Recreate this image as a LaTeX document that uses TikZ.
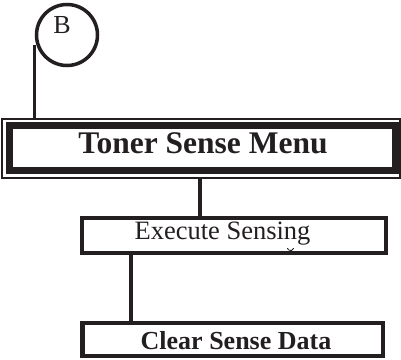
\documentclass[tikz,border=0pt]{standalone}
\usepackage{fontspec}
\setmainfont{Liberation Serif}
\definecolor{ink}{RGB}{35,31,32}
\begin{document}
\begin{tikzpicture}[x=1pt,y=-1pt,
  frame/.style={draw=ink,rectangle,inner sep=0pt,fill=none},
  wire/.style={draw=ink,line width=3.5pt},
  lbl/.style={text=ink,inner sep=0pt}]
\useasboundingbox (0,0) rectangle (401,359);
% connector circle B
\node[circle,draw=ink,line width=3.5pt,minimum size=61pt,inner sep=0pt] (B) at (67,35) {};
\node[lbl,font=\fontsize{26}{26}\selectfont] (Btxt) at (62,25) {B};
% Toner Sense Menu (double frame)
\node[frame,line width=7pt,minimum width=386pt,minimum height=45pt] (tsm) at (202.5,148) {};
\node[frame,line width=1.2pt,minimum width=398pt,minimum height=59pt] (tsmo) at (201,148.5) {};
\node[lbl,font=\bfseries\fontsize{31.5}{31.5}\selectfont] (tsmt) at (203,143) {Toner Sense Menu};
% Execute Sensing
\node[frame,line width=4.5pt,minimum width=304pt,minimum height=35pt] (exe) at (234,235.5) {};
\node[lbl,font=\fontsize{26.5}{26.5}\selectfont,anchor=base] (exet) at (222.5,239) {Execute Sensing};
% Clear Sense Data
\node[frame,line width=4.5pt,minimum width=300.5pt,minimum height=33pt] (clr) at (232.75,339.5) {};
\node[lbl,font=\bfseries\fontsize{26}{26}\selectfont,anchor=base] (clrt) at (236,349) {Clear Sense Data};
% connectors
\coordinate (bstart) at (34.5,45);
\draw[wire] (bstart) -- (bstart |- tsmo.north);
\coordinate (tdown) at (200,178);
\draw[wire] (tdown |- tsmo.south) -- (tdown |- exe.north);
\coordinate (edown) at (131,253);
\draw[wire] (edown |- exe.south) -- (edown |- clr.north);
% small mark under g
\draw[ink,line width=0.8pt,line cap=round] (287.5,248.5) arc[start angle=160,end angle=20,radius=3.2];
\end{tikzpicture}
\end{document}
